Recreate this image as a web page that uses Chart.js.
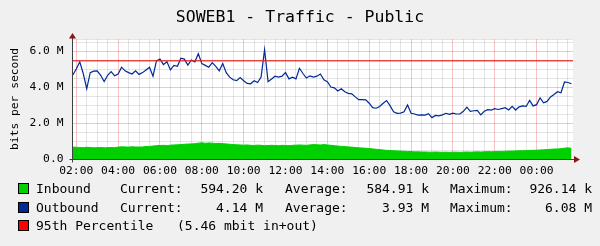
<!DOCTYPE html>
<html><head><meta charset="utf-8">
<script src="https://cdn.jsdelivr.net/npm/chart.js@4"></script>
<style>
html,body{margin:0;padding:0;background:#f0f0f0;}
#wrap{position:relative;width:600px;height:246px;overflow:hidden;background:#f0f0f0;}
canvas{position:absolute;left:0;top:0;}
#title{position:absolute;left:0;top:7px;width:600px;text-align:center;font-family:"DejaVu Sans Mono",monospace;font-size:16.5px;line-height:20px;color:#000;white-space:pre;}
.lg{position:absolute;font-family:"DejaVu Sans Mono",monospace;font-size:13px;line-height:15px;color:#000;white-space:pre;}
.box{position:absolute;width:9px;height:9px;border:1px solid #000;}
</style></head><body>
<div id="wrap"><canvas id="c" width="600" height="246"></canvas><div id="title"></div><div id="legend"></div></div>
<script>
// ---- data (Mbit/s), one sample every 10 minutes starting 01:50 ----
const startHour = 1 + 50 / 60;
const stepMinutes = 10;
const inbound = [
  0.66,0.65,0.64,0.63,0.65,0.64,0.62,0.63,0.64,0.62,0.63,0.64,0.63,
  0.66,0.68,0.67,0.66,0.68,0.67,0.66,0.67,0.69,0.70,0.72,0.74,
  0.75,0.76,0.74,0.77,0.78,0.79,0.80,0.82,0.83,0.84,0.85,0.88,
  0.90,0.87,0.89,0.88,0.86,0.87,0.85,0.84,0.82,0.80,0.79,0.78,
  0.77,0.78,0.76,0.75,0.77,0.76,0.74,0.75,0.76,0.75,0.74,0.76,0.75,0.74,0.76,0.77,0.78,0.77,0.76,0.78,0.80,0.79,0.78,0.80,
  0.78,0.76,0.74,0.72,0.70,0.69,0.67,0.66,0.64,0.62,0.61,0.60,
  0.58,0.56,0.54,0.52,0.50,0.48,0.47,0.46,0.45,0.44,0.43,0.42,
  0.41,0.40,0.40,0.39,0.39,0.38,0.38,0.39,0.38,0.37,0.38,0.37,0.38,0.38,0.37,0.38,0.39,0.38,0.39,0.40,0.39,0.40,0.41,0.40,
  0.41,0.42,0.42,0.43,0.44,0.44,0.45,0.46,0.46,0.47,0.48,0.48,
  0.49,0.50,0.51,0.52,0.54,0.55,0.56,0.57,0.60,0.62,0.59
];
const outbound = [
  4.67,5.0,5.4,4.75,3.9,4.8,4.88,4.9,4.65,4.3,4.65,4.85,4.62,
  4.72,5.1,4.9,4.8,4.72,4.9,4.7,4.8,4.95,5.1,4.6,5.45,
  5.55,5.25,5.4,4.95,5.2,5.15,5.6,5.55,5.22,5.5,5.4,5.85,
  5.3,5.2,5.1,5.35,5.15,4.9,5.3,4.8,4.55,4.4,4.35,4.52,
  4.35,4.2,4.18,4.35,4.25,4.55,6.08,4.3,4.45,4.6,4.55,4.6,4.8,4.45,4.55,4.45,5.04,4.75,4.5,4.62,4.55,4.6,4.72,4.4,
  4.3,4.0,3.95,3.78,3.9,3.74,3.65,3.62,3.45,3.3,3.3,3.29,
  3.1,2.85,2.82,2.92,3.1,3.25,2.95,2.62,2.54,2.55,2.62,3.0,
  2.54,2.5,2.44,2.45,2.44,2.52,2.3,2.42,2.4,2.45,2.54,2.48,2.55,2.5,2.5,2.65,2.88,2.65,2.68,2.7,2.45,2.65,2.74,2.72,
  2.8,2.75,2.8,2.85,2.72,2.92,2.72,2.9,2.95,2.92,3.25,2.95,
  3.02,3.4,3.12,3.2,3.45,3.58,3.74,3.68,4.28,4.25,4.18
];
const percentile95 = 5.46;
const xTickHours = [2,4,6,8,10,12,14,16,18,20,22,24];
const xTickLabels = ['02:00','04:00','06:00','08:00','10:00','12:00','14:00','16:00','18:00','20:00','22:00','00:00'];
const yTickValues = [0,2,4,6];
const yTickLabels = ['0.0','2.0 M','4.0 M','6.0 M'];
const seriesNames = ['Inbound','Outbound','95th Percentile'];
const seriesColors = ['#00CF00','#002A97','#FF0000'];
const statCurrent = ['594.20 k','4.14 M'];
const statAverage = ['584.91 k','3.93 M'];
const statMaximum = ['926.14 k','6.08 M'];
const percentileNote = '(5.46 mbit in+out)';
const chartTitle = 'SOWEB1 - Traffic - Public';

const X_MIN = 1.82, X_MAX = 25.74, Y_MAX = 6.667;
const toPts = arr => arr.map((v, i) => ({x: startHour + i * stepMinutes / 60, y: v}));

const MONO = '"DejaVu Sans Mono", monospace';
const MAJOR = 'rgba(235,80,80,0.34)';
const MINOR = 'rgba(150,150,150,0.26)';

const axisArrows = {
  id: 'axisArrows',
  afterDraw(chart) {
    const {ctx, chartArea: a} = chart;
    const lx = Math.round(a.left - 0.5) + 0.5;
    const by = Math.round(a.bottom - 0.5) + 0.5;
    ctx.save();
    ctx.strokeStyle = '#404040';
    ctx.lineWidth = 1;
    ctx.beginPath();
    ctx.moveTo(lx, by + 3); ctx.lineTo(lx, a.top - 3);
    ctx.moveTo(lx - 3, by); ctx.lineTo(a.right + 3, by);
    ctx.stroke();
    ctx.fillStyle = '#8b1515';
    ctx.beginPath();
    ctx.moveTo(lx, a.top - 6); ctx.lineTo(lx - 3.5, a.top - 0.5); ctx.lineTo(lx + 3.5, a.top - 0.5); ctx.closePath();
    ctx.fill();
    ctx.beginPath();
    ctx.moveTo(a.right + 7, by); ctx.lineTo(a.right + 1, by - 3.5); ctx.lineTo(a.right + 1, by + 3.5); ctx.closePath();
    ctx.fill();
    ctx.restore();
  }
};
const plotBg = {
  id: 'plotBg',
  beforeDraw(chart) {
    const {ctx, chartArea: a} = chart;
    ctx.save(); ctx.fillStyle = '#ffffff';
    ctx.fillRect(a.left, a.top, a.right - a.left, a.bottom - a.top);
    ctx.restore();
  }
};

new Chart(document.getElementById('c').getContext('2d'), {
  type: 'line',
  data: {
    datasets: [
      {label: seriesNames[2], data: [{x: X_MIN, y: percentile95}, {x: X_MAX, y: percentile95}],
       borderColor: 'rgba(235,30,30,0.8)', borderWidth: 1.6, pointRadius: 0, fill: false, order: 0},
      {label: seriesNames[1], data: toPts(outbound), borderColor: seriesColors[1], borderWidth: 1.2,
       pointRadius: 0, fill: false, tension: 0, order: 1},
      {label: seriesNames[0], data: toPts(inbound), borderColor: seriesColors[0], backgroundColor: seriesColors[0],
       borderWidth: 1, pointRadius: 0, fill: 'origin', tension: 0, order: 2}
    ]
  },
  options: {
    responsive: false, animation: false, devicePixelRatio: 1,
    layout: {padding: {left: 0, right: 27, top: 39, bottom: 67}},
    plugins: {legend: {display: false}, tooltip: {enabled: false}, title: {display: false}},
    scales: {
      x: {
        type: 'linear', min: X_MIN, max: X_MAX,
        afterBuildTicks: s => { const t = []; for (let h = 2; h <= s.max + 1e-9; h += 0.5) t.push({value: h}); s.ticks = t; },
        afterFit: s => { s.height = 20; },
        border: {display: false},
        grid: {drawTicks: false, lineWidth: 1,
          color: c => xTickHours.indexOf(c.tick.value) >= 0 ? MAJOR : MINOR},
        ticks: {autoSkip: false, maxRotation: 0, minRotation: 0, padding: 5, color: '#000',
          font: {family: MONO, size: 11.3},
          callback: v => { const i = xTickHours.indexOf(v); return i >= 0 ? xTickLabels[i] : ''; }}
      },
      y: {
        type: 'linear', min: 0, max: Y_MAX,
        afterBuildTicks: s => { const t = []; for (let v = 0; v <= 6.5 + 1e-9; v += 0.5) t.push({value: v}); t.push({value: s.max}); s.ticks = t; },
        afterFit: s => { s.width = 72.5; },
        border: {display: false},
        title: {display: true, text: 'bits per second', color: '#000', font: {family: MONO, size: 11.3}, padding: {top: 8, bottom: 0}},
        grid: {drawTicks: false, lineWidth: 1,
          color: c => yTickValues.indexOf(c.tick.value) >= 0 ? MAJOR : MINOR},
        ticks: {autoSkip: false, padding: 9, color: '#000', font: {family: MONO, size: 11.3},
          callback: v => { const i = yTickValues.indexOf(v); return i >= 0 ? yTickLabels[i] : ''; }}
      }
    }
  },
  plugins: [plotBg, axisArrows]
});

document.getElementById('title').textContent = chartTitle;

// ---- legend (HTML text) ----
const lg = document.getElementById('legend');
const rowY = [188, 207, 225];
function add(cls, txt, style) { const d = document.createElement('div'); d.className = cls; if (txt !== null) d.textContent = txt; Object.assign(d.style, style); lg.appendChild(d); }
for (let r = 0; r < 3; r++) {
  const top = rowY[r] - 7.5;
  add('box', null, {left: '18px', top: (rowY[r] - 5) + 'px', background: seriesColors[r]});
  add('lg', seriesNames[r], {left: '36px', top: top + 'px'});
  if (r < 2) {
    add('lg', 'Current:', {left: '120px', top: top + 'px'});
    add('lg', statCurrent[r], {right: (600 - 263) + 'px', top: top + 'px'});
    add('lg', 'Average:', {left: '285px', top: top + 'px'});
    add('lg', statAverage[r], {right: (600 - 429) + 'px', top: top + 'px'});
    add('lg', 'Maximum:', {left: '450px', top: top + 'px'});
    add('lg', statMaximum[r], {right: (600 - 592) + 'px', top: top + 'px'});
  } else {
    add('lg', percentileNote, {left: '177px', top: top + 'px'});
  }
}
</script>
</body></html>
